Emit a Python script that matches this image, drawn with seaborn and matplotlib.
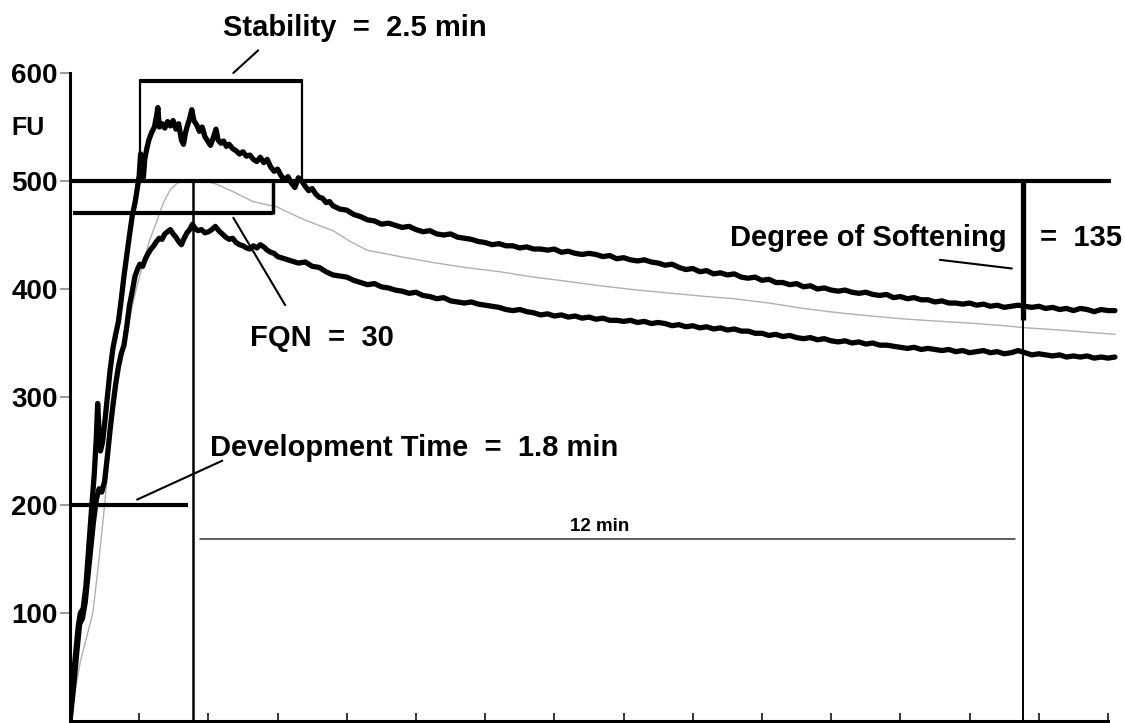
import matplotlib
matplotlib.use("Agg")
import matplotlib.pyplot as plt
import pandas as pd
import seaborn as sns

# ---------------- data (minutes, FU) ----------------
upper_t = [0.00, 0.04, 0.08, 0.12, 0.15, 0.19, 0.23, 0.27, 0.31, 0.35, 0.38, 0.40, 0.42, 0.44, 0.47,
           0.50, 0.54, 0.58, 0.62, 0.66, 0.70, 0.74, 0.78, 0.82, 0.86, 0.90, 0.94, 0.97, 1.00, 1.02,
           1.04, 1.06, 1.08, 1.11, 1.14, 1.18, 1.22, 1.25, 1.27, 1.29, 1.33, 1.37, 1.41, 1.45, 1.49,
           1.53, 1.57, 1.61, 1.64, 1.67, 1.70, 1.73, 1.76, 1.79, 1.83, 1.87, 1.91, 1.95, 1.99, 2.03,
           2.07, 2.11, 2.14, 2.18, 2.22, 2.26, 2.30, 2.35, 2.40, 2.45, 2.50, 2.55, 2.60, 2.65, 2.70,
           2.75, 2.80, 2.85, 2.90, 2.95, 3.00, 3.05, 3.10, 3.15, 3.20, 3.25, 3.30, 3.35, 3.40, 3.45,
           3.50, 3.55, 3.60, 3.65, 3.70, 3.75, 3.80, 3.90, 4.00, 4.10, 4.20, 4.30, 4.40, 4.50, 4.60,
           4.70, 4.80, 4.90, 5.00, 5.10, 5.20, 5.30, 5.40, 5.50, 5.60, 5.70, 5.80, 5.90, 6.00, 6.10,
           6.20, 6.30, 6.40, 6.50, 6.60, 6.70, 6.80, 6.90, 7.00, 7.10, 7.20, 7.30, 7.40, 7.50, 7.60,
           7.70, 7.80, 7.90, 8.00, 8.10, 8.20, 8.30, 8.40, 8.50, 8.60, 8.70, 8.80, 8.90, 9.00, 9.10,
           9.20, 9.30, 9.40, 9.50, 9.60, 9.70, 9.80, 9.90, 10.00, 10.10, 10.20, 10.30, 10.40, 10.50,
           10.60, 10.70, 10.80, 10.90, 11.00, 11.10, 11.20, 11.30, 11.40, 11.50, 11.60, 11.70, 11.80,
           11.90, 12.00, 12.10, 12.20, 12.30, 12.40, 12.50, 12.60, 12.70, 12.80, 12.90, 13.00, 13.10,
           13.20, 13.30, 13.40, 13.50, 13.60, 13.70, 13.80, 13.90, 14.00, 14.10, 14.20, 14.30, 14.40,
           14.50, 14.60, 14.70, 14.80, 14.90, 15.00, 15.10]
upper_fu = [0, 35, 62, 88, 100, 104, 125, 160, 195, 228, 262, 294, 268, 250, 258,
            275, 300, 325, 345, 358, 370, 390, 412, 431, 450, 468, 480, 492, 505, 525,
            512, 503, 520, 530, 538, 545, 550, 560, 568, 550, 553, 549, 555, 551, 556,
            548, 553, 538, 534, 545, 552, 558, 566, 556, 552, 546, 550, 541, 537, 533,
            540, 548, 538, 535, 537, 532, 534, 530, 528, 525, 527, 523, 524, 520, 518,
            522, 517, 520, 513, 509, 511, 505, 501, 504, 498, 494, 503, 500, 495, 491,
            493, 488, 485, 484, 480, 481, 477, 474, 473, 469, 467, 464, 463, 460, 461,
            459, 457, 458, 455, 453, 454, 451, 450, 451, 448, 447, 446, 444, 443, 441,
            442, 440, 440, 438, 439, 437, 437, 436, 437, 434, 435, 433, 432, 433, 432,
            430, 431, 428, 429, 427, 426, 427, 425, 424, 422, 423, 420, 418, 419, 416,
            417, 414, 415, 413, 414, 411, 410, 411, 408, 409, 406, 406, 404, 405,
            402, 403, 400, 401, 399, 398, 399, 397, 396, 397, 395, 394, 395,
            392, 393, 391, 392, 390, 390, 388, 389, 387, 387, 386, 387, 385,
            386, 384, 385, 383, 384, 385, 384, 383, 384, 382, 383, 381, 382,
            380, 382, 381, 379, 381, 380, 380]

lower_t = [0.00, 0.05, 0.10, 0.14, 0.18, 0.22, 0.26, 0.30, 0.34, 0.38, 0.42, 0.46, 0.50, 0.54, 0.58,
           0.62, 0.66, 0.70, 0.74, 0.78, 0.82, 0.86, 0.90, 0.94, 0.98, 1.01, 1.05, 1.09, 1.13, 1.17,
           1.21, 1.25, 1.29, 1.33, 1.37, 1.41, 1.45, 1.49, 1.53, 1.57, 1.61, 1.65, 1.69, 1.73, 1.77,
           1.81, 1.85, 1.90, 1.95, 2.00, 2.05, 2.10, 2.15, 2.20, 2.25, 2.30, 2.35, 2.40, 2.45, 2.50,
           2.55, 2.60, 2.65, 2.70, 2.75, 2.80, 2.85, 2.90, 2.95, 3.00, 3.10, 3.20, 3.30, 3.40, 3.50,
           3.60, 3.70, 3.80, 3.90, 4.00, 4.10, 4.20, 4.30, 4.40, 4.50, 4.60, 4.70, 4.80, 4.90, 5.00,
           5.10, 5.20, 5.30, 5.40, 5.50, 5.60, 5.70, 5.80, 5.90, 6.00, 6.10, 6.20, 6.30, 6.40, 6.50,
           6.60, 6.70, 6.80, 6.90, 7.00, 7.10, 7.20, 7.30, 7.40, 7.50, 7.60, 7.70, 7.80, 7.90, 8.00,
           8.10, 8.20, 8.30, 8.40, 8.50, 8.60, 8.70, 8.80, 8.90, 9.00, 9.10, 9.20, 9.30, 9.40, 9.50,
           9.60, 9.70, 9.80, 9.90, 10.00, 10.10, 10.20, 10.30, 10.40, 10.50, 10.60, 10.70, 10.80,
           10.90, 11.00, 11.10, 11.20, 11.30, 11.40, 11.50, 11.60, 11.70, 11.80, 11.90, 12.00, 12.10,
           12.20, 12.30, 12.40, 12.50, 12.60, 12.70, 12.80, 12.90, 13.00, 13.10, 13.20, 13.30, 13.40,
           13.50, 13.60, 13.70, 13.80, 13.90, 14.00, 14.10, 14.20, 14.30, 14.40, 14.50, 14.60, 14.70,
           14.80, 14.90, 15.00, 15.10]
lower_fu = [0, 30, 65, 90, 95, 110, 135, 160, 185, 205, 215, 212, 222, 245, 270,
            292, 312, 328, 340, 348, 365, 385, 398, 412, 419, 423, 421, 428, 433, 437,
            440, 444, 447, 446, 451, 453, 455, 451, 448, 444, 441, 447, 452, 455, 460,
            456, 454, 455, 452, 453, 455, 458, 454, 451, 448, 446, 447, 443, 441, 440,
            438, 437, 440, 438, 441, 439, 436, 434, 433, 430, 428, 426, 424, 425, 421,
            420, 416, 413, 412, 411, 408, 406, 404, 405, 402, 401, 399, 398, 396, 397,
            394, 393, 391, 392, 389, 388, 387, 388, 386, 385, 384, 383, 381, 380, 381,
            379, 378, 376, 377, 375, 376, 374, 375, 373, 374, 372, 373, 371, 371, 370,
            371, 369, 370, 368, 369, 368, 366, 367, 365, 366, 364, 365, 363, 364, 362,
            363, 361, 361, 359, 359, 357, 358, 356, 357, 355, 354, 355, 353,
            354, 352, 351, 352, 350, 351, 349, 350, 348, 348, 347, 346, 345,
            346, 344, 345, 344, 343, 344, 342, 343, 341, 342, 343, 341, 342,
            340, 341, 343, 341, 339, 340, 339, 338, 339, 337, 338, 337, 338,
            336, 337, 336, 337]

mid_t = [0.00, 0.05, 0.15, 0.25, 0.33, 0.42, 0.50, 0.60, 0.72, 0.85, 0.95, 1.06, 1.15, 1.25, 1.35,
         1.45, 1.55, 1.65, 1.80, 1.95, 2.12, 2.36, 2.64, 2.99, 3.32, 3.55, 3.80, 4.05, 4.29, 4.77,
         5.20, 5.70, 6.21, 6.70, 7.20, 7.66, 8.20, 8.70, 9.20, 9.60, 10.10, 10.60, 11.10, 11.58,
         12.10, 12.60, 13.10, 13.50, 13.83, 14.30, 14.70, 15.10]
mid_fu = [0, 20, 55, 80, 100, 150, 200, 270, 330, 370, 398, 425, 445, 462, 480,
          492, 498, 500, 501, 500, 497, 490, 481, 476, 466, 460, 454, 444, 436, 430,
          425, 420, 416, 411, 407, 403, 399, 396, 393, 391, 387, 382, 378, 375,
          372, 370, 368, 366, 364, 362, 360, 358]

# annotation values
peak_line = 500
fqn_line = 470
arrival_line = 200
dev_time = 1.78
stab_start, stab_end, stab_top = 1.01, 3.35, 593
fqn_end = 2.93
soft_time = 13.77
soft_bottom = 371
twelve_y, twelve_x0, twelve_x1 = 168.5, 1.88, 13.66
yticks = [100, 200, 300, 400, 500, 600]
xticks = list(range(0, 16))

# ---------------- figure ----------------
sns.set_theme(style="white")
plt.rcParams['font.family'] = ['Liberation Sans', 'DejaVu Sans']
plt.rcParams['text.color'] = 'black'
plt.rcParams['ytick.labelcolor'] = 'black'

W, H = 1125, 723
PX_MIN = 69.2
PX_FU = 1.08
fig = plt.figure(figsize=(W / 100, H / 100), dpi=100)
ax = fig.add_axes([70 / W, 2 / H, 15.2 * PX_MIN / W, 719 / H])
ax.set_xlim(0, 15.2)
ax.set_ylim(0, 719 / PX_FU)

df_up = pd.DataFrame({"t": upper_t, "fu": upper_fu})
df_lo = pd.DataFrame({"t": lower_t, "fu": lower_fu})
df_mid = pd.DataFrame({"t": mid_t, "fu": mid_fu})

sns.lineplot(data=df_mid, x="t", y="fu", color="#b0b0b0", lw=1.0, ax=ax, estimator=None, sort=False)
sns.lineplot(data=df_up, x="t", y="fu", color="black", lw=3.8, ax=ax, estimator=None, sort=False)
sns.lineplot(data=df_lo, x="t", y="fu", color="black", lw=3.8, ax=ax, estimator=None, sort=False)

k = dict(color="black", solid_capstyle="butt")
# consistency line 500 and 470 line
ax.plot([0, 15.05], [peak_line, peak_line], lw=3.0, **k)
ax.plot([0.04, fqn_end], [fqn_line, fqn_line], lw=3.0, **k)
ax.plot([fqn_end, fqn_end], [fqn_line - 1, peak_line], lw=2.5, **k)
# stability box
ax.plot([stab_start, stab_end], [stab_top, stab_top], lw=3.0, **k)
ax.plot([stab_start, stab_start], [peak_line, stab_top + 1], lw=1.6, **k)
ax.plot([stab_end, stab_end], [peak_line, stab_top + 1], lw=1.6, **k)
# development time
ax.plot([dev_time, dev_time], [0, peak_line], lw=1.8, **k)
ax.plot([0, 1.70], [arrival_line, arrival_line], lw=3.0, **k)
# 12 min
ax.plot([twelve_x0, twelve_x1], [twelve_y, twelve_y], lw=1.1, color="#333333")
ax.plot([soft_time, soft_time], [0, peak_line], lw=1.4, **k)
ax.plot([soft_time, soft_time], [soft_bottom, peak_line], lw=3.8, **k)

# leaders
ax.plot([2.36, 2.72], [600, 621], lw=1.5, color="black", clip_on=False)
ax.plot([2.36, 3.11], [466, 385], lw=1.5, color="black")
ax.plot([0.97, 2.20], [205, 241], lw=1.5, color="black")
ax.plot([12.57, 13.61], [427, 419], lw=1.5, color="black")

fs = 21
tk = dict(fontsize=fs, fontweight="bold", color="black", va="center")
ax.text(4.12, 642, "Stability  =  2.5 min", ha="center", clip_on=False, **tk)
ax.text(2.60, 355, "FQN  =  30", ha="left", **tk)
ax.text(2.02, 253, "Development Time  =  1.8 min", ha="left", **tk)
ax.text(7.66, 180, "12 min", fontsize=13.5, fontweight="bold", color="black", ha="center", va="center")
ax.text(9.54, 447, "Degree of Softening", ha="left", **tk)
ax.text(14.02, 447, "=  135", ha="left", clip_on=False, **tk)
ax.text(-0.84, 549, "FU", fontsize=18, fontweight="bold", color="black", ha="left", va="center",
        clip_on=False)

# axes styling
for s in ["top", "right"]:
    ax.spines[s].set_visible(False)
ax.spines["left"].set_bounds(0, 600)
ax.spines["bottom"].set_bounds(0, 15)
for s in ["left", "bottom"]:
    ax.spines[s].set_linewidth(2.2)
    ax.spines[s].set_color("black")
ax.set_yticks(yticks)
ax.set_yticklabels([str(v) for v in yticks], fontsize=20, fontweight="bold", color="black")
ax.set_xticks(xticks)
ax.set_xticklabels([])
ax.tick_params(axis="y", direction="out", length=7, width=1.4, color="#9a9a9a", pad=2, left=True)
ax.tick_params(axis="x", direction="in", length=6, width=1.1, color="black", bottom=True)
ax.set_xlabel("")
ax.set_ylabel("")
ax.grid(False)

fig.savefig("out.png", dpi=100)
